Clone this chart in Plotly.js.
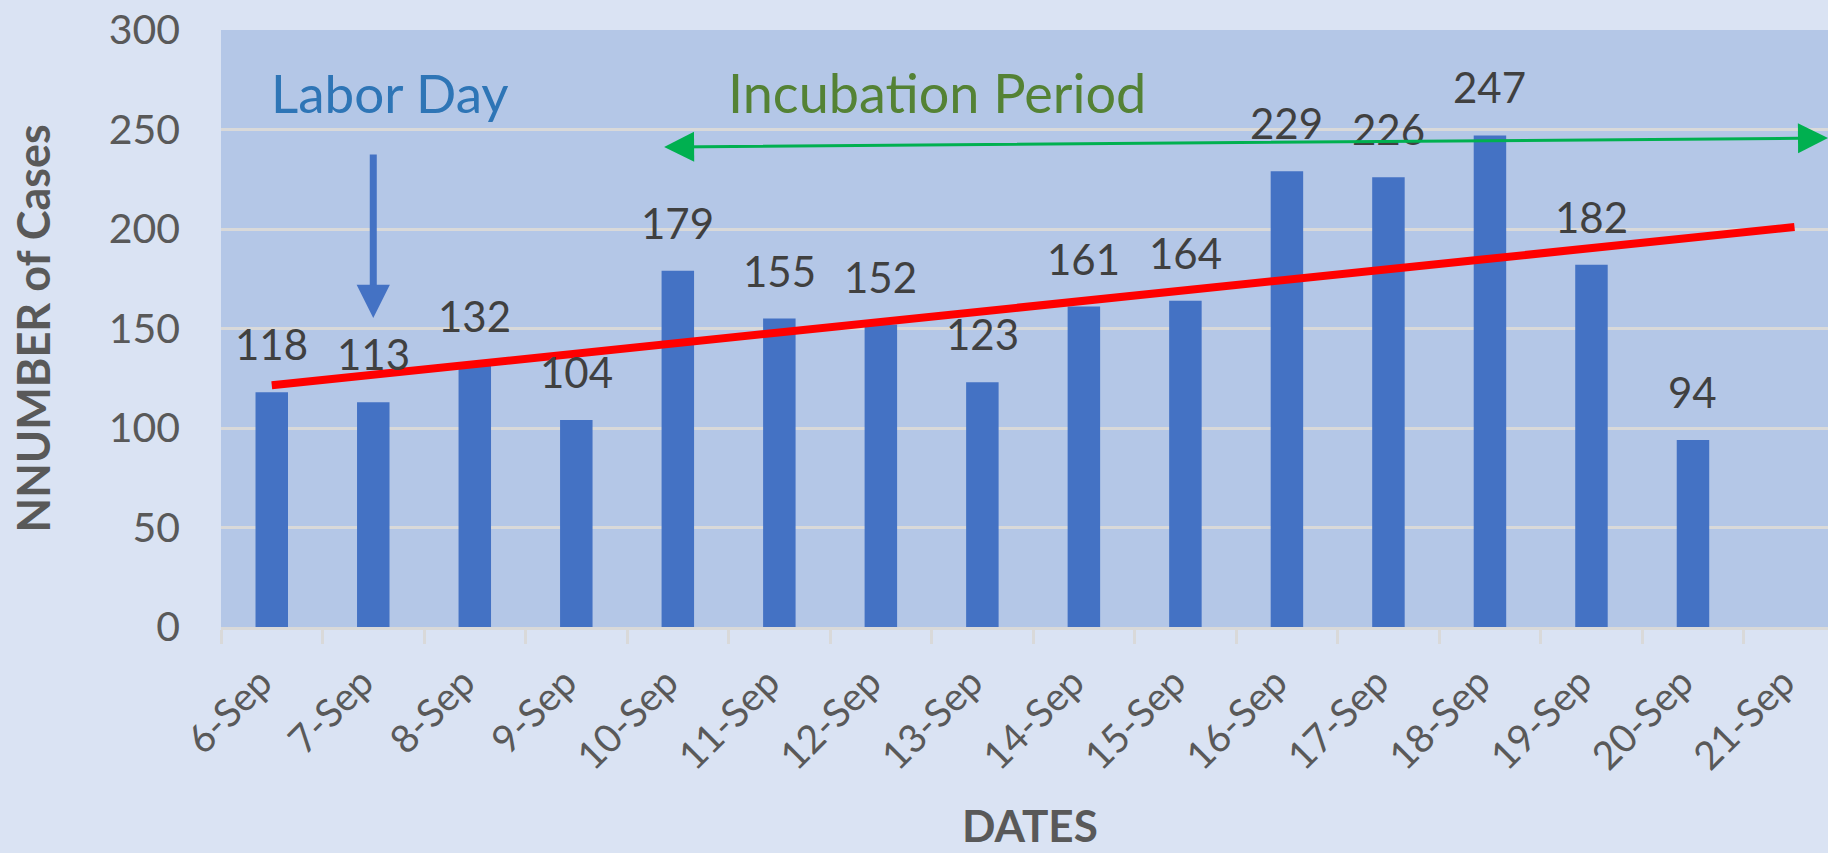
<!DOCTYPE html>
<html>
<head>
<meta charset="utf-8">
<script src="https://cdn.plot.ly/plotly-3.0.1.min.js"></script>
<style>
  html, body { margin: 0; padding: 0; background: #DAE3F3; }
  #chart { width: 1828px; height: 853px; }
</style>
</head>
<body>
<div id="chart"></div>
<script>
// ---- data ----
const dates = ['6-Sep','7-Sep','8-Sep','9-Sep','10-Sep','11-Sep','12-Sep','13-Sep',
               '14-Sep','15-Sep','16-Sep','17-Sep','18-Sep','19-Sep','20-Sep','21-Sep'];
const cases = [118, 113, 132, 104, 179, 155, 152, 123, 161, 164, 229, 226, 247, 182, 94];
// trend line end points (6-Sep and 21-Sep)
const trendDates = ['6-Sep', '21-Sep'];
const trendValues = [121.5, 201];
const yTicks = [0, 50, 100, 150, 200, 250, 300];

const FONT = 'Lato, "Open Sans", sans-serif';

const traces = [
  {
    type: 'bar',
    x: dates.slice(0, cases.length),
    y: cases,
    width: 0.32,
    marker: { color: '#4472C4' },
    hoverinfo: 'x+y',
    showlegend: false
  },
  {
    type: 'scatter',
    mode: 'lines',
    x: trendDates,
    y: trendValues,
    line: { color: '#FF0000', width: 8 },
    hoverinfo: 'skip',
    showlegend: false
  }
];

const annotations = [];
// data labels
cases.forEach((v, i) => {
  annotations.push({
    x: dates[i], y: v, xref: 'x', yref: 'y',
    text: String(v), showarrow: false,
    yanchor: 'middle', xanchor: 'center', yshift: 48,
    font: { family: FONT, size: 42, color: '#404040' }
  });
});
// Labor Day arrow
annotations.push({
  x: 1, y: 155.3, xref: 'x', yref: 'y',
  ax: 1, ay: 238.2, axref: 'x', ayref: 'y',
  text: '', showarrow: true,
  arrowhead: 2, arrowsize: 0.95, arrowwidth: 7, arrowcolor: '#4472C4'
});
annotations.push({
  x: 0.1052, y: 0.896, xref: 'paper', yref: 'paper',
  text: 'Labor Day', showarrow: false, xanchor: 'center', yanchor: 'middle',
  font: { family: FONT, size: 53, color: '#2E75B6' }
});
// Incubation period double arrow
annotations.push({
  x: 15.33, y: 245.7, xref: 'x', yref: 'y',
  ax: 3.85, ay: 241.2, axref: 'x', ayref: 'y',
  text: '', showarrow: true, arrowside: 'end+start',
  arrowhead: 2, arrowsize: 2, startarrowhead: 2, startarrowsize: 2,
  arrowwidth: 3, arrowcolor: '#00B050'
});
annotations.push({
  x: 0.4456, y: 0.896, xref: 'paper', yref: 'paper',
  text: 'Incubation Period', showarrow: false, xanchor: 'center', yanchor: 'middle',
  font: { family: FONT, size: 54, color: '#548235' }
});
// axis titles
annotations.push({
  x: 0.5034, y: -0.3784, xref: 'paper', yref: 'paper',
  text: '<b>DATES</b>', showarrow: false, xanchor: 'center', yanchor: 'bottom',
  font: { family: FONT, size: 44, color: '#595959' }
});
annotations.push({
  x: -0.117, y: 0.5, xref: 'paper', yref: 'paper',
  text: '<b>NNUMBER of Cases</b>', showarrow: false, textangle: -90,
  xanchor: 'center', yanchor: 'middle',
  font: { family: FONT, size: 45, color: '#595959' }
});

const layout = {
  width: 1828, height: 853,
  margin: { l: 221, r: 0, t: 30, b: 226 },
  paper_bgcolor: '#DAE3F3',
  plot_bgcolor: '#B4C7E7',
  showlegend: false,
  font: { family: FONT, color: '#595959' },
  xaxis: {
    type: 'category',
    categoryorder: 'array',
    categoryarray: dates,
    range: [-0.5, 15.33],
    tickson: 'boundaries',
    ticks: 'outside', ticklen: 14, tickwidth: 3, tickcolor: '#D9D9D9',
    showline: true, linecolor: '#D9D9D9', linewidth: 3,
    showgrid: false, zeroline: false,
    tickangle: -45,
    ticklabelstandoff: 14,
    ticklabelshift: -11,
    tickfont: { family: FONT, size: 39, color: '#595959' },
    fixedrange: true
  },
  yaxis: {
    range: [0, 300],
    tickvals: yTicks,
    ticktext: yTicks.map(String),
    showgrid: true, gridcolor: '#D9D9D9', gridwidth: 3,
    zeroline: false, showline: false,
    ticks: '',
    ticklabelstandoff: 40,
    tickfont: { family: FONT, size: 41, color: '#595959' },
    fixedrange: true
  },
  annotations: annotations
};

Plotly.newPlot('chart', traces, layout, { displayModeBar: false, staticPlot: true });
</script>
</body>
</html>
